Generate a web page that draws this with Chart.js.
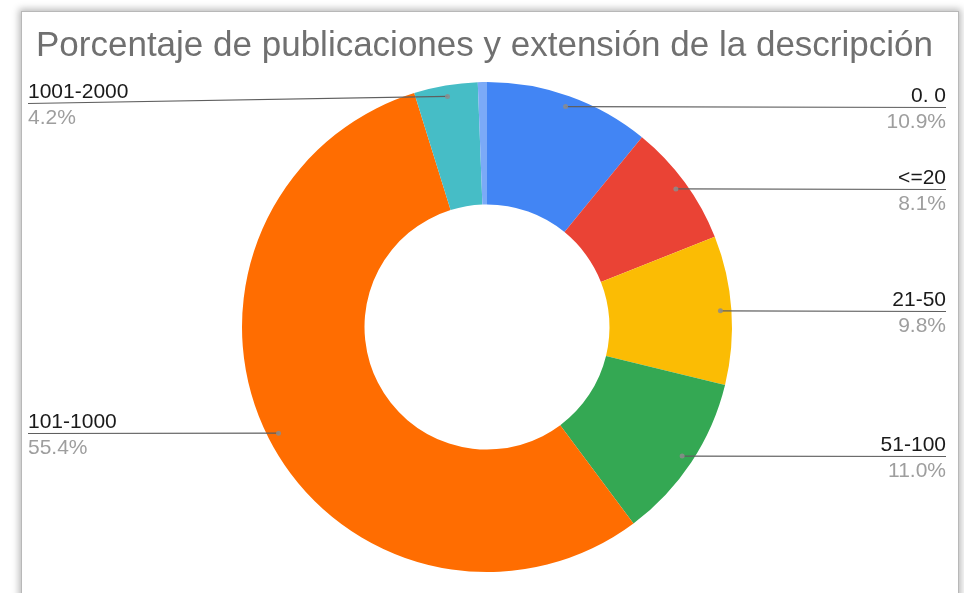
<!DOCTYPE html>
<html>
<head>
<meta charset="utf-8">
<script src="https://cdn.jsdelivr.net/npm/chart.js@4.4.1/dist/chart.umd.min.js"></script>
<style>
  html, body { margin: 0; padding: 0; background: #fff; overflow: hidden; }
  #card {
    position: absolute; left: 21px; top: 11px; width: 936px; height: 640px;
    border: 1px solid #b8b8b8; background: #fff;
    box-shadow: 0 0 7px 2px rgba(0,0,0,0.28);
  }
  #wrap { position: absolute; left: 0; top: 0; width: 964px; height: 593px; }
</style>
</head>
<body>
<div id="card"></div>
<div id="wrap"><canvas id="pubChart" width="964" height="593"></canvas></div>
<script>
// data
var categories = ["0. 0", "<=20", "21-50", "51-100", "101-1000", "1001-2000", ">2000"];
var percentages = [10.9, 8.1, 9.8, 11.0, 55.4, 4.2, 0.6];
var showCallout = [true, true, true, true, true, true, false];

var sliceColors = ["#4285F4", "#EA4335", "#FBBC04", "#34A853", "#FF6D01", "#46BDC6", "#7BAAF7"];
var chartTitle = "Porcentaje de publicaciones y extensión de la descripción";
var fontFamily = "'Liberation Sans', Arial, Helvetica, sans-serif";

// title + leader-line labels, drawn the way Sheets does it
var calloutPlugin = {
  id: "callouts",
  afterDraw: function (chart) {
    var ctx = chart.ctx;
    ctx.save();
    ctx.fillStyle = "#707070";
    ctx.font = "35px " + fontFamily;
    ctx.textAlign = "left";
    ctx.textBaseline = "alphabetic";
    ctx.fillText(chartTitle, 36, 56);

    var meta = chart.getDatasetMeta(0);
    meta.data.forEach(function (arc, i) {
      if (!showCallout[i]) return;
      var p = arc.getProps(["x", "y", "startAngle", "endAngle", "outerRadius"], true);
      var mid = (p.startAngle + p.endAngle) / 2;
      var dotX = p.x + Math.cos(mid) * p.outerRadius * 0.955;
      var dotY = p.y + Math.sin(mid) * p.outerRadius * 0.955;
      var right = Math.cos(mid) > 0;
      var lineY = Math.max(dotY, p.y - p.outerRadius + 21);
      var lineX = right ? chart.width - 18 : 28;

      ctx.strokeStyle = "#5f5f5f";
      ctx.lineWidth = 1.2;
      ctx.beginPath();
      ctx.moveTo(lineX, Math.round(lineY) + 0.5);
      ctx.lineTo(dotX, dotY);
      ctx.stroke();

      ctx.fillStyle = "rgba(140,140,140,0.85)";
      ctx.beginPath();
      ctx.arc(dotX, dotY, 2.5, 0, Math.PI * 2);
      ctx.fill();

      ctx.textAlign = right ? "right" : "left";
      ctx.font = "21px " + fontFamily;
      ctx.fillStyle = "#1a1a1a";
      ctx.fillText(categories[i], lineX, lineY - 5);
      ctx.fillStyle = "#9e9e9e";
      ctx.fillText(percentages[i].toFixed(1) + "%", lineX, lineY + 21);
    });
    ctx.restore();
  }
};

new Chart(document.getElementById("pubChart"), {
  type: "doughnut",
  data: {
    labels: categories,
    datasets: [{
      data: percentages,
      backgroundColor: sliceColors,
      borderWidth: 0
    }]
  },
  options: {
    responsive: false,
    animation: false,
    cutout: "50%",
    layout: { padding: { top: 82, bottom: 21, left: 10, right: 0 } },
    plugins: {
      legend: { display: false },
      tooltip: { enabled: false },
      title: { display: false }
    }
  },
  plugins: [calloutPlugin]
});
</script>
</body>
</html>
